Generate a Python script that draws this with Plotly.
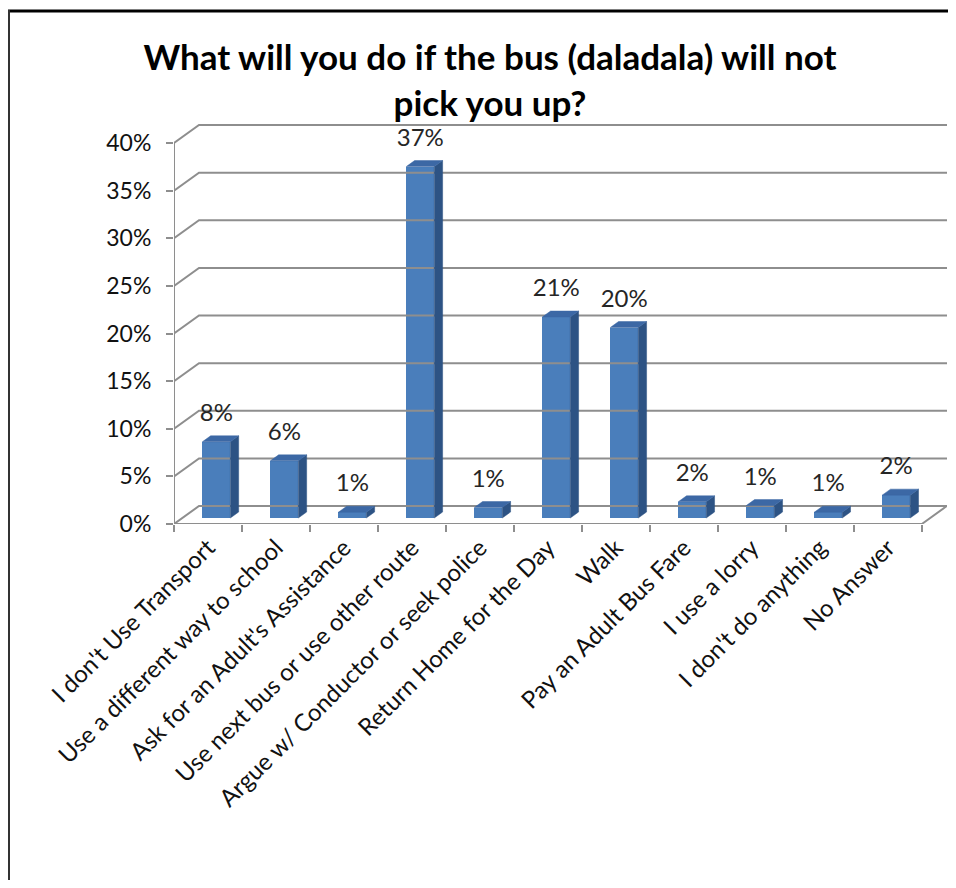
import plotly.graph_objects as go

categories = [
    "I don't Use Transport",
    "Use a different way to school",
    "Ask for an Adult's Assistance",
    "Use next bus or use other route",
    "Argue w/ Conductor or seek police",
    "Return Home for the Day",
    "Walk",
    "Pay an Adult Bus Fare",
    "I use a lorry",
    "I don't do anything",
    "No Answer",
]
values = [8.0, 6.0, 0.6, 36.9, 1.1, 21.1, 20.0, 1.7, 1.3, 0.6, 2.4]
value_labels = ["8%", "6%", "1%", "37%", "1%", "21%", "20%", "2%", "1%", "1%", "2%"]
y_ticks = [0, 5, 10, 15, 20, 25, 30, 35, 40]
y_tick_labels = ["0%", "5%", "10%", "15%", "20%", "25%", "30%", "35%", "40%"]
title = "What will you do if the bus (daladala) will not<br>pick you up?"

# ---- geometry (styling); page has an 8px body margin ----
OFF = 8
W, H = 956 - OFF, 888 - 2 * OFF
PL, PR, PT, PB = 174 - OFF, 947 - OFF, 124 - OFF, 524 - OFF
N = len(categories)
XMIN = -0.5
XMAX = N - 0.5 + 0.37
YMAX = 42.0
PXX = (PR - PL) / (XMAX - XMIN)
PXY = (PB - PT) / YMAX
DXW = 25 / PXX          # wall depth offset x (data units)
DYW = 18 / PXY          # wall depth offset y
BAR_DX = DXW / 3
BAR_DY = DYW / 3
BAR_W = 28 / PXX
BAR_BASE = BAR_DY

FRONT = "#4A7EBB"
SIDE = "#2D5384"
TOP = "#3C68A5"
GRID = "#8E8E8E"
FONT = "Lato, Open Sans, sans-serif"

fig = go.Figure()

# back wall gridlines + left wall diagonals
gx, gy = [], []
for g in y_ticks:
    gx += [XMIN, XMIN + DXW, XMAX, None]
    gy += [g, g + DYW, g + DYW, None]
# front floor edge and right floor diagonal
gx += [XMIN, N - 0.5, N - 0.5 + DXW, None]
gy += [0, 0, DYW, None]
# y axis line
gx += [XMIN, XMIN, None]
gy += [0, y_ticks[-1], None]
fig.add_trace(go.Scatter(x=gx, y=gy, mode="lines", line=dict(color=GRID, width=2),
                         hoverinfo="skip", showlegend=False, cliponaxis=False))

# bar front faces
centers = [i + BAR_DX for i in range(N)]
fig.add_trace(go.Bar(x=centers, y=values, base=BAR_BASE, width=BAR_W,
                     marker=dict(color=FRONT, line=dict(width=0)),
                     showlegend=False, xaxis="x", yaxis="y"))

# side and top faces
sx, sy, tx, ty = [], [], [], []
for c, v in zip(centers, values):
    xl, xr = c - BAR_W / 2, c + BAR_W / 2
    b, t = BAR_BASE, BAR_BASE + v
    sx += [xr, xr, xr + BAR_DX, xr + BAR_DX, xr, None]
    sy += [b, t, t + BAR_DY, b + BAR_DY, b, None]
    tx += [xl, xr, xr + BAR_DX, xl + BAR_DX, xl, None]
    ty += [t, t, t + BAR_DY, t + BAR_DY, t, None]
fig.add_trace(go.Scatter(x=sx, y=sy, fill="toself", fillcolor=SIDE, mode="lines",
                         line=dict(width=0.5, color=SIDE), hoverinfo="skip", showlegend=False))
fig.add_trace(go.Scatter(x=tx, y=ty, fill="toself", fillcolor=TOP, mode="lines",
                         line=dict(width=0.5, color=TOP), hoverinfo="skip", showlegend=False))

# data labels
fig.add_trace(go.Scatter(
    x=centers,
    y=[BAR_BASE + BAR_DY + v + 21 / PXY for v in values],
    mode="text", text=value_labels, textposition="middle center",
    textfont=dict(family=FONT, size=24, color="#262626"),
    hoverinfo="skip", showlegend=False, cliponaxis=False))

def px_x(p):
    return (p - OFF - PL) / (PR - PL)

def px_y(p):
    return (PB - (p - OFF)) / (PB - PT)

fig.update_layout(
    width=W, height=H,
    margin=dict(l=PL, r=W - PR, t=PT, b=H - PB, autoexpand=False),
    paper_bgcolor="white", plot_bgcolor="white",
    title=dict(text="<b>" + title + "</b>", x=(490 - OFF) / W, xanchor="center",
               y=1 - (70 - OFF) / H, yanchor="top", yref="container",
               font=dict(family=FONT, size=35, color="#000000")),
    xaxis=dict(range=[XMIN, XMAX], tickvals=list(range(N)), ticktext=categories,
               tickangle=-45, ticks="", showgrid=False, zeroline=False, showline=False,
               ticklabelstandoff=4,
               tickfont=dict(family=FONT, size=24, color="#111111")),
    xaxis2=dict(range=[XMIN, XMAX], overlaying="x", anchor="y", side="bottom",
                tickvals=[XMIN + k for k in range(N + 1)], ticks="outside", ticklen=7,
                tickcolor=GRID, tickwidth=2, showticklabels=False, showgrid=False,
                zeroline=False, showline=False),
    yaxis=dict(range=[0, YMAX], tickvals=y_ticks, ticktext=y_tick_labels,
               ticks="outside", ticklen=7, tickcolor=GRID, tickwidth=2,
               showgrid=False, zeroline=False, showline=False,
               ticklabelstandoff=10,
               tickfont=dict(family=FONT, size=23, color="#111111")),
    bargap=0,
    shapes=[
        dict(type="line", xref="paper", yref="paper", x0=px_x(8), x1=px_x(956),
             y0=px_y(11), y1=px_y(11), line=dict(color="#000000", width=3)),
        dict(type="line", xref="paper", yref="paper", x0=px_x(9), x1=px_x(9),
             y0=px_y(10), y1=px_y(888), line=dict(color="#333333", width=2)),
    ],
)
# dummy trace to activate xaxis2
fig.add_trace(go.Scatter(x=[XMIN], y=[0], xaxis="x2", mode="markers",
                         marker=dict(opacity=0), hoverinfo="skip", showlegend=False))

fig.write_html("out.html", config={"displayModeBar": False})
